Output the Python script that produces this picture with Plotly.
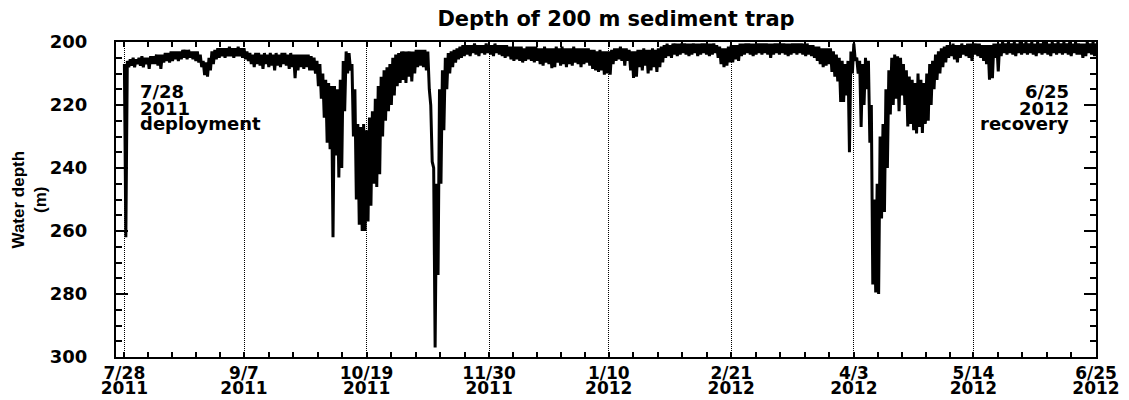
import pandas as pd
import plotly.graph_objects as go

# ---------------- data ----------------
start_date = "2011-07-28"

# daily shallowest depth (m), 7/28/2011 .. 6/25/2012
depth_shallow = [
    207, 206, 205.5, 205, 205.5, 205, 204.5, 205, 205, 204.5,
    204.5, 204, 204, 204, 203.5, 203.5, 203, 203, 203, 203,
    202.5, 202.5, 202.5, 203, 203, 203, 204, 206, 206.5, 205,
    203, 202.5, 202, 202, 202, 202, 201.5, 202, 202, 201.5,
    202, 202, 203, 203.5, 204, 203.5, 203.5, 204, 203.5, 204,
    203.5, 204, 203.5, 204, 203.5, 203.5, 204, 203.5, 204, 204,
    204, 204, 204, 204, 204.5, 205, 206, 207, 210, 212,
    213, 214, 214, 215, 212, 206, 203, 203.5, 207, 215,
    226, 227, 226, 228, 224, 222, 218, 214, 211, 209,
    208, 207, 205, 204, 203.5, 203, 203, 203, 203, 203,
    202.5, 202.5, 202.5, 202.5, 203, 220, 240, 245, 215, 209,
    205, 203.5, 203, 202.5, 202, 201.5, 201, 201, 201, 201,
    200.5, 201, 201, 201, 200.5, 201, 201, 200.5, 201, 201,
    201, 201, 201.5, 201.5, 201.5, 201.5, 201.5, 202, 201.5, 201.5,
    201.5, 201.5, 202, 202, 201.5, 202, 202, 202, 201.5, 202,
    201.5, 202, 202, 202, 201.5, 202, 202, 202, 202, 202,
    202.5, 202.5, 203, 202.5, 203, 203, 203, 202.5, 202, 202,
    201.5, 202, 202, 202.5, 203, 203, 202.5, 202.5, 202, 202.5,
    202.5, 202, 202.5, 202, 201.5, 201, 200.5, 201, 200.5, 200.5,
    200.5, 200.5, 200.5, 200.5, 200.5, 200.5, 200.5, 200.5, 200.5, 200.5,
    200.5, 200.5, 200.5, 201, 201.5, 202, 202, 201.5, 201, 201,
    201, 200.5, 200.5, 200.5, 200.5, 200.5, 200.5, 200.5, 200.5, 200.5,
    200.5, 200.5, 200.5, 200.5, 200.5, 200.5, 200.5, 200.5, 200.5, 200.5,
    200.5, 200.5, 200.5, 200.5, 200.5, 201, 201, 201.5, 201.5, 202,
    202, 202, 202, 203, 204, 205, 206, 207, 206, 203,
    200.5, 205, 206, 207, 205, 206, 220, 250, 245, 230,
    226, 215, 209, 205, 204, 204.5, 205, 207, 209, 211,
    212, 213, 210, 212, 213, 210, 207, 206, 204, 203,
    202, 201.5, 201, 201, 200.5, 201, 201, 200.5, 201, 200.5,
    200.5, 200.5, 200.5, 200.5, 201, 201, 201, 201, 200.5, 200.5,
    200.5, 200, 200.5, 200, 200.5, 200, 200.5, 200, 200.5, 200,
    200.5, 200, 200.5, 200, 200.5, 200, 200, 200.5, 200, 200.5,
    200, 200.5, 200, 200.5, 200, 200.5, 200, 200.5, 200.5, 200.5,
    200, 200.5, 200, 200.5,
]

# daily deepest depth (m)
depth_deep = [
    262, 208, 207.5, 208, 207, 207.5, 208, 207, 208.5, 207,
    207, 207.5, 208.5, 206.5, 206, 206.5, 206, 205.5, 206, 205.5,
    205, 205.5, 205, 205.5, 206, 206.5, 208, 210.5, 211, 209,
    207, 205.5, 205, 204.5, 205, 204.5, 204.5, 205, 204.5, 204.5,
    205, 205.5, 206, 207, 208, 207, 207.5, 208.5, 207, 208,
    207.5, 209, 207.5, 208, 207, 207.5, 208.5, 208, 211.5, 209,
    208, 208.5, 208, 209, 209, 210, 214, 218, 224, 232,
    234, 262, 236, 243, 240, 222, 210, 209, 230, 250,
    258, 260, 260, 257, 252, 245, 246, 242, 230, 225,
    222, 220, 217, 214, 213, 212, 213, 211, 212.5, 210,
    208, 207.5, 208, 209, 215, 238, 297, 274, 245, 228,
    215, 210, 208, 206.5, 205.5, 205, 204.5, 204, 204.5, 203.5,
    204, 204.5, 203.5, 204, 203.5, 204, 204.5, 203.5, 204, 204.5,
    205, 204.5, 205.5, 206, 205.5, 206, 206.5, 206, 205.5, 206,
    206.5, 206, 207, 207.5, 206.5, 207, 208.3, 208, 206.5, 207.5,
    207, 208, 207, 207.5, 206.5, 207, 208, 207, 206.5, 207.5,
    208.5, 209, 209.5, 209, 210.4, 210, 210.4, 207, 206, 205.5,
    206, 207.5, 206, 209, 211.4, 211, 208, 209, 207.5, 210,
    209, 208, 209.5, 208, 206.5, 205, 204.5, 205, 204, 204.5,
    204, 203.5, 204, 204.5, 204, 203.5, 204.5, 204, 203.5, 204,
    204.5, 204, 203.5, 205, 207, 208, 207.5, 206.5, 206.5, 205.5,
    206, 204.5, 204, 203.5, 204, 204.5, 204, 203.5, 204, 203.5,
    204, 205, 204, 203.5, 204, 203.5, 204, 204.5, 204, 203.5,
    204, 203.5, 204, 204.5, 204, 204.5, 205, 206, 207, 208,
    207.5, 207, 209.5, 211, 212.5, 219, 219, 217, 235, 210,
    206, 210, 227, 220, 215, 232, 277, 279.5, 280, 256,
    254, 240, 223, 220, 218, 222, 217, 220, 226.8, 226,
    228, 229, 227, 228.9, 226, 225, 220, 215, 212, 210,
    208, 206.5, 205, 204.5, 205.5, 206.5, 205, 204, 204.5, 205,
    206, 204, 204.5, 205, 206, 207, 212, 211.5, 205, 209.3,
    204.5, 203.5, 204, 203.5, 204, 204.5, 203.5, 204, 203.5, 204,
    203.5, 204, 204.5, 203.5, 204, 203.5, 204, 204.5, 203.5, 204,
    203.5, 204, 203.5, 204, 204.5, 203.5, 204, 204, 205, 204.5,
    203.5, 204, 204.5, 203.5,
]

major_dates = ["2011-07-28", "2011-09-07", "2011-10-19", "2011-11-30",
               "2012-01-10", "2012-02-21", "2012-04-03", "2012-05-14", "2012-06-25"]
major_md = ["7/28", "9/7", "10/19", "11/30", "1/10", "2/21", "4/3", "5/14", "6/25"]
major_year = ["2011", "2011", "2011", "2011", "2012", "2012", "2012", "2012", "2012"]

depth_ticks = [200, 220, 240, 260, 280, 300]

title_text = "Depth of 200 m sediment trap"
y_title = "Water depth<br>(m)"
left_note = ["7/28", "2011", "deployment"]
right_note = ["6/25", "2012", "recovery"]

# ---------------- build ----------------
days = pd.date_range(start_date, periods=len(depth_shallow), freq="D")
xs, ys = [], []
for d, s, dp in zip(days, depth_shallow, depth_deep):
    xs += [d, d + pd.Timedelta(hours=12)]
    ys += [s, dp]

mj = pd.to_datetime(major_dates)
minor_vals = []
for a, b in zip(mj[:-1], mj[1:]):
    for k in range(1, 5):
        minor_vals.append(a + (b - a) * k / 5)

x_range = ["2011-07-25 03:00", "2012-06-25 00:00"]

# page body has an 8 px margin: compensate so the plot sits where the reference has it
OFF = 8
W, H = 1129 - OFF, 400 - OFF

TICKFONT = dict(family="DejaVu Sans", size=18, color="black", weight="bold")
XTICKFONT = dict(family="DejaVu Sans", size=17, color="black", weight="bold")

fig = go.Figure()
fig.add_trace(go.Scatter(x=xs, y=ys, mode="lines",
                         line=dict(color="black", width=3),
                         hoverinfo="skip", showlegend=False))

fig.update_layout(
    width=W, height=H,
    margin=dict(l=116 - OFF, r=W - (1096 - OFF), t=42 - OFF, b=H - (357 - OFF)),
    plot_bgcolor="white", paper_bgcolor="white",
    showlegend=False,
    title=dict(text=title_text, x=(616 - OFF) / W, xanchor="center",
               y=1 - (19 - OFF) / H, yanchor="middle",
               font=dict(family="DejaVu Sans", size=21, color="black", weight="bold")),
    xaxis=dict(
        type="date", range=x_range, automargin=False,
        tickmode="array", tickvals=mj, ticktext=major_md,
        ticks="inside", ticklen=5, tickwidth=1.5, tickcolor="black",
        showline=True, linewidth=2, linecolor="black", mirror="ticks",
        showgrid=True, gridcolor="black", gridwidth=1, griddash="1px,1px",
        minor=dict(tickmode="array", tickvals=minor_vals, ticks="inside",
                   ticklen=5, tickwidth=1.5, tickcolor="black", showgrid=False),
        tickfont=XTICKFONT, zeroline=False, ticklabelstandoff=0,
    ),
    xaxis2=dict(
        type="date", range=x_range, overlaying="x", anchor="y", side="bottom",
        automargin=False,
        tickmode="array", tickvals=mj, ticktext=major_year,
        ticks="", showline=False, showgrid=False, zeroline=False,
        tickfont=XTICKFONT, ticklabelstandoff=19,
    ),
    yaxis=dict(
        range=[300, 200], tickmode="array", tickvals=depth_ticks, automargin=False,
        ticks="inside", ticklen=12, tickwidth=1.5, tickcolor="black",
        showline=True, linewidth=2, linecolor="black", mirror="ticks",
        showgrid=False, zeroline=False,
        minor=dict(tickmode="linear", tick0=200, dtick=5, ticks="inside",
                   ticklen=6, tickwidth=1.5, tickcolor="black", showgrid=False),
        tickfont=TICKFONT, ticklabelstandoff=23,
    ),
)

# invisible trace so the overlaid year axis is drawn
fig.add_trace(go.Scatter(x=[days[0]], y=[None], xaxis="x2", yaxis="y",
                         mode="markers", hoverinfo="skip", showlegend=False))

NOTEFONT = dict(family="DejaVu Sans", size=18, color="black", weight="bold")
line_y_px = [91, 108, 124]
for txt, ypx in zip(left_note, line_y_px):
    fig.add_annotation(text=txt, xref="paper", yref="paper",
                       x=(138 - 116) / 980, y=1 - (ypx - 42) / 315,
                       xanchor="left", yanchor="middle", showarrow=False,
                       font=NOTEFONT)
for txt, ypx in zip(right_note, line_y_px):
    fig.add_annotation(text=txt, xref="paper", yref="paper",
                       x=(1071 - 116) / 980, y=1 - (ypx - 42) / 315,
                       xanchor="right", yanchor="middle", showarrow=False,
                       font=NOTEFONT)

fig.add_annotation(text=y_title, xref="paper", yref="paper",
                   x=(29 - 116) / 980, y=0.5, xanchor="center", yanchor="middle",
                   textangle=-90, showarrow=False,
                   font=dict(family="Liberation Sans", size=17, color="black", weight="bold"))

fig.write_html("out.html")
